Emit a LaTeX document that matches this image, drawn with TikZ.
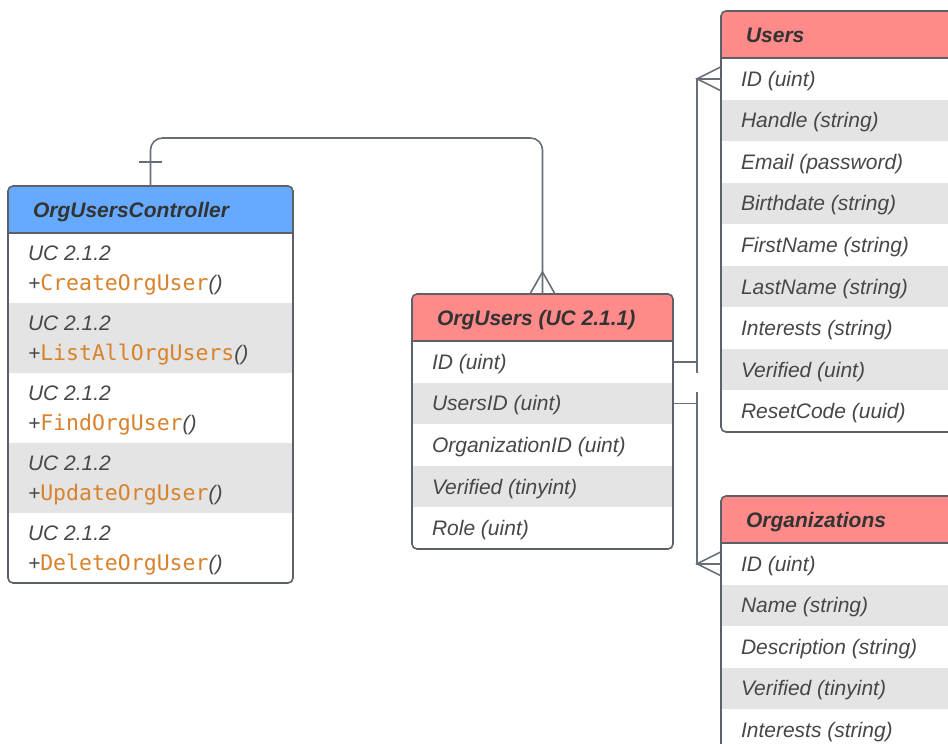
\documentclass[tikz,border=0pt]{standalone}
\usepackage{fontspec}
\setmainfont{Liberation Sans}
\newfontfamily\codefont{DejaVu Sans Mono}
\usetikzlibrary{calc}

\definecolor{edge}{HTML}{5C6168}
\definecolor{wire}{HTML}{686E76}
\definecolor{hdrred}{HTML}{FF8A8A}
\definecolor{hdrblue}{HTML}{66AAFF}
\definecolor{rowgrey}{HTML}{E4E4E4}
\definecolor{ink}{HTML}{333333}
\definecolor{inklight}{HTML}{474747}
\definecolor{code}{HTML}{D9822B}

\tikzset{
  tbl/.style={anchor=north west, inner sep=0pt, outer sep=0pt},
  rowfill/.style={anchor=north west, inner sep=0pt, outer sep=0pt},
  celltext/.style={anchor=base west, inner sep=0pt, outer sep=0pt,
    font=\fontsize{21}{25}\selectfont\itshape, text=inklight},
  hdrtext/.style={anchor=base west, inner sep=0pt, outer sep=0pt,
    font=\fontsize{21}{25}\selectfont\bfseries\itshape, text=ink},
  frameline/.style={draw=edge, line width=1.6pt, rounded corners=5pt},
  conn/.style={draw=wire, line width=1.6pt},
}

\newcommand{\meth}[1]{+{\codefont\upshape\color{code}\fontsize{21.5}{25}\selectfont #1}()}

\begin{document}
\begin{tikzpicture}[x=1pt,y=-1pt]
\path[use as bounding box, clip] (0,0) rectangle (948,744);

% ---------- table frames (positions and sizes) ----------
\node[tbl, minimum width=285pt, minimum height=397pt] (ctrl) at (8,186) {};
\node[tbl, minimum width=261pt, minimum height=255pt] (ou) at (412,294) {};
\node[tbl, minimum width=260pt, minimum height=421pt] (users) at (721,11) {};
\node[tbl, minimum width=260pt, minimum height=300pt] (orgs) at (721,496) {};

% ---------- OrgUsersController ----------
\begin{scope}
  \clip[rounded corners=5pt] (ctrl.north west) rectangle (ctrl.south east);
  \node[rowfill, fill=hdrblue, minimum width=285pt, minimum height=47pt] (ctrl-h) at (8,186) {};
  \foreach \m [count=\i from 0] in {CreateOrgUser, ListAllOrgUsers, FindOrgUser, UpdateOrgUser, DeleteOrgUser} {
    \ifodd\i \def\rf{rowgrey}\else\def\rf{white}\fi
    \node[rowfill, fill=\rf, minimum width=285pt, minimum height=70pt] (c\i) at (8,{233+70*\i}) {};
  }
\end{scope}
\node[hdrtext] (ctrl-t) at ($(ctrl-h.west)+(25,7.5)$) {OrgUsersController};
\foreach \m [count=\i from 0] in {CreateOrgUser, ListAllOrgUsers, FindOrgUser, UpdateOrgUser, DeleteOrgUser} {
  \node[celltext] (c\i-a) at ($(c\i.north west)+(20,27.5)$) {UC 2.1.2};
  \node[celltext] (c\i-b) at ($(c\i.north west)+(20,57.5)$) {\meth{\m}};
}
\draw[frameline] (ctrl-h.south west) -- (ctrl-h.south east);
\draw[frameline] (ctrl.north west) rectangle (ctrl.south east);

% ---------- OrgUsers ----------
\begin{scope}
  \clip[rounded corners=5pt] (ou.north west) rectangle (ou.south east);
  \node[rowfill, fill=hdrred, minimum width=261pt, minimum height=47pt] (ou-h) at (412,294) {};
  \foreach \i in {0,...,4} {
    \ifodd\i \def\rf{rowgrey}\else\def\rf{white}\fi
    \node[rowfill, fill=\rf, minimum width=261pt, minimum height=41.6pt] (ou\i) at (412,{341+41.6*\i}) {};
  }
\end{scope}
\node[hdrtext] (ou-t) at ($(ou-h.west)+(25,7.5)$) {OrgUsers (UC 2.1.1)};
\foreach \t [count=\i from 0] in {ID (uint), UsersID (uint), OrganizationID (uint), Verified (tinyint), Role (uint)} {
  \node[celltext] (ou\i-t) at ($(ou\i.west)+(20,7.5)$) {\t};
}
\draw[frameline] (ou-h.south west) -- (ou-h.south east);
\draw[frameline] (ou.north west) rectangle (ou.south east);

% ---------- Users ----------
\begin{scope}
  \clip[rounded corners=5pt] (users.north west) rectangle (users.south east);
  \node[rowfill, fill=hdrred, minimum width=260pt, minimum height=47pt] (users-h) at (721,11) {};
  \foreach \i in {0,...,8} {
    \ifodd\i \def\rf{rowgrey}\else\def\rf{white}\fi
    \node[rowfill, fill=\rf, minimum width=260pt, minimum height=41.55pt] (u\i) at (721,{58+41.55*\i}) {};
  }
\end{scope}
\node[hdrtext] (users-t) at ($(users-h.west)+(25,7.5)$) {Users};
\foreach \t [count=\i from 0] in {ID (uint), Handle (string), Email (password), Birthdate (string),
    FirstName (string), LastName (string), Interests (string), Verified (uint), ResetCode (uuid)} {
  \node[celltext] (u\i-t) at ($(u\i.west)+(20,7.5)$) {\t};
}
\draw[frameline] (users-h.south west) -- (users-h.south east);
\draw[frameline] (users.north west) rectangle (users.south east);

% ---------- Organizations ----------
\begin{scope}
  \clip[rounded corners=5pt] (orgs.north west) rectangle (orgs.south east);
  \node[rowfill, fill=hdrred, minimum width=260pt, minimum height=47pt] (orgs-h) at (721,496) {};
  \foreach \i in {0,...,4} {
    \ifodd\i \def\rf{rowgrey}\else\def\rf{white}\fi
    \node[rowfill, fill=\rf, minimum width=260pt, minimum height=41.55pt] (o\i) at (721,{543+41.55*\i}) {};
  }
\end{scope}
\node[hdrtext] (orgs-t) at ($(orgs-h.west)+(25,7.5)$) {Organizations};
\foreach \t [count=\i from 0] in {ID (uint), Name (string), Description (string), Verified (tinyint), Interests (string)} {
  \node[celltext] (o\i-t) at ($(o\i.west)+(20,7.5)$) {\t};
}
\draw[frameline] (orgs-h.south west) -- (orgs-h.south east);
\draw[frameline] (orgs.north west) rectangle (orgs.south east);

% ---------- relationships ----------
% controller (one) to OrgUsers (many)
\draw[conn, rounded corners=12pt] (ctrl.north) -- ++(0,-48) -| (ou.north);
\draw[conn] ($(ctrl.north)+(-11.5,-24)$) -- ++(23,0);
\draw[conn] ($(ou.north)+(-12.5,0)$) -- ($(ou.north)+(0,-22)$) -- ($(ou.north)+(12.5,0)$);

% OrgUsers.ID (one) to Users.ID (many)
\draw[conn] (ou0.east) -- ++(24,0) |- (u0.west);
\draw[conn] ($(ou0.east)+(24,-11)$) -- ++(0,22);
\draw[conn] ($(u0.west)+(0,-12)$) -- ($(u0.west)+(-24,0)$) -- ($(u0.west)+(0,12)$);

% OrgUsers.UsersID (one) to Organizations.ID (many)
\draw[conn] (ou1.east) -- ++(24,0) |- (o0.west);
\draw[conn] ($(ou1.east)+(24,-11)$) -- ++(0,22);
\draw[conn] ($(o0.west)+(0,-12)$) -- ($(o0.west)+(-24,0)$) -- ($(o0.west)+(0,12)$);
\end{tikzpicture}
\end{document}
